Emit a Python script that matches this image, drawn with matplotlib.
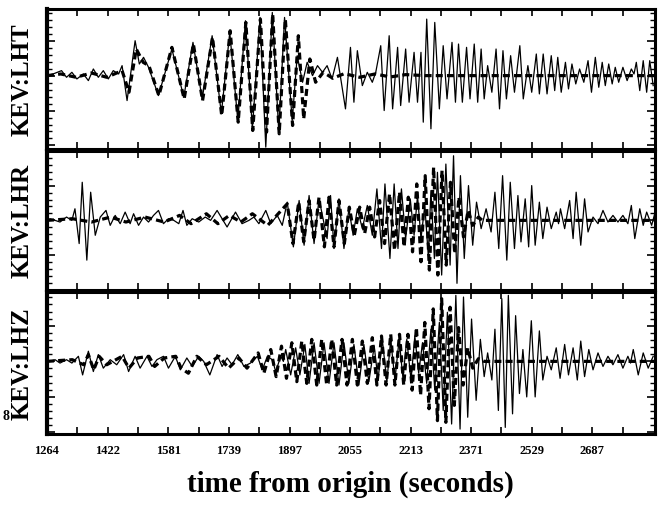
import matplotlib.pyplot as plt
from matplotlib.ticker import MultipleLocator

# observed (solid) and synthetic (dashed) seismograms, read off the picture
# times in seconds from origin, amplitudes in arbitrary units (panel = about +-210)
lht_obs_t = [1264, 1280, 1302, 1315, 1329, 1342, 1359, 1372, 1385, 1398, 1411, 1424, 1437, 1451, 1460,
             1473, 1494, 1505, 1516, 1529, 1555, 1590, 1621, 1645, 1669, 1695, 1719, 1741, 1762, 1782,
             1800, 1820, 1835, 1852, 1869, 1884, 1904, 1917, 1931, 1943, 1957, 1970, 1983, 1995, 2008,
             2022, 2043, 2056, 2065, 2074, 2087, 2100, 2113, 2122, 2135, 2144, 2157, 2166, 2179, 2187,
             2200, 2209, 2222, 2231, 2240, 2246, 2255, 2266, 2276, 2288, 2298, 2308, 2321, 2330, 2338,
             2348, 2359, 2368, 2379, 2388, 2397, 2405, 2414, 2425, 2436, 2445, 2454, 2463, 2474, 2484,
             2498, 2507, 2519, 2529, 2541, 2549, 2559, 2569, 2580, 2589, 2597, 2606, 2617, 2625, 2634,
             2644, 2654, 2665, 2676, 2685, 2695, 2704, 2713, 2721, 2730, 2739, 2747, 2756, 2767, 2778,
             2789, 2796, 2802, 2811, 2820, 2829, 2837, 2846]
lht_obs_a = [0, 5, 15, -5, 10, -10, 5, -15, 20, -5, 15, -10, 15, 5, 30,
             -75, 105, 35, 55, 25, -60, 80, -65, 100, -70, 120, -115, 130, -135, 165,
             -160, 175, -215, 190, -170, 175, -135, 60, -20, 40, 0, 30, 10, 30, -10,
             55, -100, 85, -80, 75, -30, 10, -20, 10, 90, -105, 120, -100, 85, -90,
             80, -80, 70, -80, 70, -140, 170, -160, 160, -100, 90, -70, 100, -80, 95,
             -80, 85, -70, 95, -80, 80, -70, 30, -50, 80, -100, 75, -70, 60, -50,
             90, -70, 30, -50, 65, -55, 65, -55, 60, -45, 55, -50, 40, -40, 35,
             -25, 20, -20, 45, -50, 55, -35, 40, -30, 35, -25, 25, -20, 25, -15,
             20, 5, 40, -45, 45, -50, 45, -30]
lht_syn_t = [1264, 1300, 1340, 1380, 1420, 1460, 1478, 1497, 1515, 1530, 1556, 1590, 1622, 1646, 1670,
             1696, 1720, 1742, 1763, 1783, 1801, 1821, 1837, 1853, 1870, 1886, 1905, 1920, 1934, 1950,
             1965, 1985, 2010, 2040, 2080, 2120, 2160, 2200, 2250, 2850]
lht_syn_a = [0, 5, -5, 8, -5, 15, -50, 80, 40, 30, -60, 85, -70, 95, -75,
             115, -120, 135, -140, 160, -165, 170, -170, 185, -175, 170, -150, 120, -130, 50,
             -20, 10, -8, 6, -5, 5, -4, 3, 0, 0]

lhr_obs_t = [1264, 1272, 1298, 1315, 1329, 1337, 1348, 1356, 1368, 1378, 1390, 1403, 1418, 1429, 1442,
             1455, 1468, 1481, 1490, 1503, 1516, 1529, 1542, 1555, 1568, 1581, 1595, 1608, 1619, 1629,
             1643, 1660, 1677, 1691, 1708, 1734, 1756, 1773, 1791, 1804, 1817, 1835, 1848, 1865, 1878,
             1891, 1907, 1922, 1935, 1948, 1961, 1974, 1995, 2004, 2013, 2026, 2039, 2052, 2063, 2074,
             2087, 2100, 2113, 2125, 2137, 2146, 2159, 2170, 2180, 2189, 2200, 2212, 2222, 2231, 2240,
             2250, 2259, 2266, 2275, 2283, 2294, 2305, 2316, 2325, 2334, 2343, 2353, 2364, 2375, 2385,
             2397, 2410, 2423, 2433, 2443, 2453, 2464, 2473, 2484, 2493, 2501, 2512, 2521, 2529, 2538,
             2549, 2558, 2569, 2580, 2593, 2599, 2604, 2615, 2628, 2637, 2645, 2657, 2667, 2676, 2689,
             2702, 2715, 2728, 2741, 2754, 2767, 2780, 2789, 2798, 2811, 2820, 2829, 2842, 2850]
lhr_obs_a = [0, 5, -5, 10, 0, 35, -70, 115, -120, 85, -45, 10, 30, -15, 15,
             -10, 25, -10, 20, -15, 10, -5, 15, 30, -10, 5, 0, -10, 30, -15,
             5, -5, 10, 0, 30, -20, 25, -10, 0, 10, -10, 30, -10, 15, -15,
             55, -80, 60, -75, 75, -70, 65, -55, 75, -85, 65, -85, 35, -45, 35,
             -25, 45, -45, 95, -85, 110, -115, 110, -85, 95, -55, 65, -45, 75, -55,
             45, -105, 90, -115, 145, -165, 170, -135, 195, -190, 135, -115, 105, -75, 55,
             -25, 35, -35, 85, -85, 135, -120, 115, -85, 75, -65, 65, -80, 105, -75,
             55, -55, 40, -25, 25, -10, 35, -25, 60, -55, 85, -75, 65, -35, 10,
             -10, 30, -5, 15, -5, 15, -10, 45, -55, 35, -15, 25, -15, 20]
lhr_syn_t = [1264, 1330, 1380, 1430, 1470, 1520, 1570, 1610, 1640, 1680, 1710, 1740, 1770, 1800, 1840,
             1891, 1906, 1921, 1934, 1948, 1961, 1974, 1988, 2000, 2013, 2026, 2040, 2053, 2066, 2080,
             2093, 2106, 2119, 2132, 2145, 2158, 2171, 2184, 2196, 2207, 2218, 2229, 2240, 2251, 2262,
             2273, 2284, 2295, 2306, 2317, 2328, 2339, 2351, 2363, 2375, 2390, 2400, 2850]
lhr_syn_a = [0, 5, -5, 10, -5, 10, -5, 15, -10, 20, -10, 15, -5, 20, -15,
             50, -70, 55, -65, 60, -60, 70, -80, 70, -80, 60, -70, 40, -45, 40,
             -40, 40, -50, 60, -70, 80, -90, 85, -80, 70, -95, 110, -125, 135, -150,
             160, -165, 150, -135, 115, -100, 70, -50, 30, -15, 10, 0, 0]

lhz_obs_t = [1264, 1272, 1285, 1298, 1315, 1329, 1346, 1357, 1372, 1385, 1398, 1411, 1429, 1446, 1464,
             1477, 1494, 1507, 1525, 1538, 1551, 1568, 1581, 1599, 1612, 1629, 1643, 1660, 1673, 1689,
             1708, 1721, 1734, 1747, 1762, 1778, 1795, 1813, 1826, 1839, 1852, 1861, 1874, 1881, 1887,
             1900, 1913, 1924, 1937, 1948, 1961, 1974, 1987, 2000, 2013, 2026, 2039, 2052, 2065, 2078,
             2091, 2104, 2118, 2128, 2139, 2151, 2161, 2172, 2183, 2193, 2203, 2214, 2224, 2234, 2244,
             2255, 2266, 2276, 2288, 2298, 2309, 2320, 2331, 2342, 2351, 2362, 2372, 2384, 2395, 2405,
             2414, 2425, 2433, 2442, 2451, 2460, 2468, 2479, 2487, 2497, 2506, 2516, 2528, 2538, 2549,
             2558, 2569, 2580, 2593, 2603, 2615, 2625, 2637, 2648, 2657, 2667, 2678, 2689, 2702, 2715,
             2728, 2741, 2754, 2767, 2780, 2787, 2794, 2807, 2820, 2833, 2846]
lhz_obs_a = [0, 0, 5, -5, 5, -5, 15, -40, 30, -30, 20, -20, 5, -10, 20,
             -30, 15, -20, 15, -15, 5, 15, -20, 15, -25, 10, -15, 15, 0, -40,
             20, -15, 10, -10, 20, -15, -5, 15, -25, 15, 5, -30, 15, 0, 35,
             -40, 40, -40, 50, -65, 55, -65, 55, -65, 55, -70, 55, -65, 50, -70,
             50, -60, 45, -55, 65, -60, 65, -55, 65, -50, 65, -55, 75, -35, 55,
             -65, 95, -85, 115, -145, 145, -185, 195, -200, 190, -165, 125, -115, 65, -45,
             25, -55, 95, -145, 185, -195, 195, -155, 135, -95, 35, -105, 120, -105, 90,
             -55, 15, -25, 40, -50, 50, -40, 40, -55, 60, -45, 35, -25, 25, -15,
             15, -10, 20, -20, 15, -5, 35, -40, 25, -20, 15]
lhz_syn_t = [1264, 1330, 1360, 1372, 1386, 1400, 1420, 1460, 1478, 1500, 1530, 1545, 1570, 1600, 1614,
             1633, 1655, 1680, 1713, 1738, 1765, 1786, 1815, 1830, 1848, 1862, 1876, 1889, 1903, 1916,
             1929, 1942, 1955, 1968, 1981, 1994, 2007, 2020, 2034, 2047, 2061, 2074, 2087, 2100, 2113,
             2125, 2137, 2149, 2161, 2172, 2184, 2195, 2206, 2217, 2228, 2239, 2250, 2261, 2272, 2283,
             2294, 2305, 2316, 2327, 2338, 2350, 2362, 2375, 2390, 2405, 2850]
lhz_syn_a = [0, 5, -10, 20, -25, 15, -10, 15, -20, 10, 15, -15, 10, 15, -20,
             -35, 15, -10, 15, -20, 10, -20, 25, -35, 35, -45, 45, -50, 55, -60,
             60, -65, 65, -70, 65, -70, 65, -70, 65, -70, 65, -70, 60, -65, 70,
             -70, 75, -70, 80, -70, 80, -70, 80, -85, 100, -100, 115, -140, 155, -175,
             185, -180, 160, -130, 100, -70, 40, -20, 8, 0, 0]

stations = ['KEV:LHT', 'KEV:LHR', 'KEV:LHZ']
tick_labels = ['1264', '1422', '1581', '1739', '1897', '2055', '2213', '2371', '2529', '2687']

traces = [(lht_obs_t, lht_obs_a, lht_syn_t, lht_syn_a),
          (lhr_obs_t, lhr_obs_a, lhr_syn_t, lhr_syn_a),
          (lhz_obs_t, lhz_obs_a, lhz_syn_t, lhz_syn_a)]
ylims = [(-220, 200), (-210, 210), (-215, 205)]
boxes = [[0.0714, 0.704, 0.9236, 0.276],
         [0.0714, 0.425, 0.9236, 0.275],
         [0.0714, 0.140, 0.9236, 0.281]]

serif = 'Liberation Serif'
fig = plt.figure(figsize=(6.58, 5.06), dpi=100)

ticks = [float(v) for v in tick_labels]
mids = [(ticks[i] + ticks[i + 1]) / 2 for i in range(len(ticks) - 1)] + [ticks[-1] + 79]

for i in range(3):
    ax = fig.add_axes(boxes[i])
    ot, oa, st, sa = traces[i]
    ax.plot(st, sa, color='black', lw=2.3, ls=(0, (2.2, 1.3)))
    ax.plot(ot, oa, color='black', lw=0.9)
    ax.set_xlim(1264, 2850)
    ax.set_ylim(*ylims[i])

    ax.set_xticks(ticks)
    ax.set_xticks(mids, minor=True)
    ax.tick_params(axis='x', which='both', direction='in', top=True, bottom=True,
                   length=5, width=1.2)
    ax.yaxis.set_major_locator(MultipleLocator(105))
    ax.yaxis.set_minor_locator(MultipleLocator(21))
    ax.tick_params(axis='y', which='major', direction='in', left=True, right=True,
                   length=6, width=1.2, labelleft=False)
    ax.tick_params(axis='y', which='minor', direction='in', left=True, right=True,
                   length=3.5, width=1.0)
    for s in ax.spines.values():
        s.set_linewidth(2.2)
    ax.spines['left'].set_linewidth(3)

    ax.set_ylabel(stations[i], fontfamily=serif, fontweight='bold', fontsize=18)
    ax.yaxis.set_label_coords(-0.022, 0.5)

    if i < 2:
        ax.set_xticklabels([])
    else:
        ax.set_xticklabels(tick_labels, fontfamily=serif, fontweight='bold', fontsize=9)
        ax.tick_params(axis='x', pad=7)
        ax.set_xlabel('time from origin (seconds)', fontfamily=serif, fontweight='bold',
                      fontsize=21, labelpad=10)

fig.text(0.009, 0.177, '8', fontfamily=serif, fontweight='bold', fontsize=10,
         ha='center', va='center')

fig.savefig('out.png', dpi=100)
